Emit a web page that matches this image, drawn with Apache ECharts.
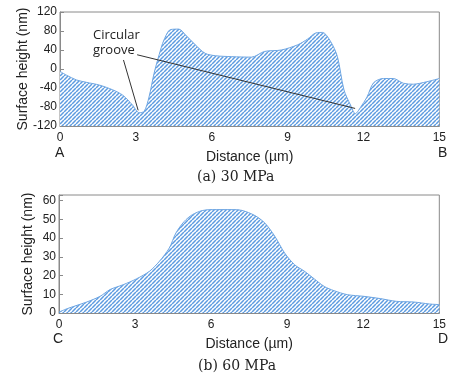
<!DOCTYPE html>
<html>
<head>
<meta charset="utf-8">
<script src="https://cdn.jsdelivr.net/npm/echarts@6/dist/echarts.min.js"></script>
<style>
  html, body { margin: 0; padding: 0; background: #fff; }
  #chart { width: 449px; height: 376px; }
</style>
</head>
<body>
<div id="chart"></div>
<script>
// (a) 30 MPa profile: [distance um, height nm]
const profileA = [
  [0, -5], [0.26, -13], [0.65, -23], [1.04, -28], [1.57, -34], [2.09, -44],
  [2.48, -55], [2.87, -76], [3.13, -92], [3.33, -89], [3.52, -59], [3.72, -9],
  [3.92, 30], [4.11, 61], [4.37, 83], [4.7, 84], [4.96, 72], [5.35, 51],
  [5.74, 33], [6.14, 28], [6.79, 26], [7.57, 25], [8.09, 37], [8.75, 40],
  [9.4, 51], [9.79, 63], [10.12, 76], [10.38, 77], [10.7, 58], [10.97, 26],
  [11.23, -44], [11.49, -76], [11.68, -94], [11.88, -81], [12.14, -59],
  [12.4, -29], [12.79, -20], [13.18, -20], [13.58, -30], [13.97, -32],
  [14.49, -27], [15, -20]
];
// (b) 60 MPa profile
const profileB = [
  [0, 0.5], [0.32, 2.3], [0.71, 4.1], [1.1, 5.9], [1.62, 8.9], [2.01, 12.5],
  [2.53, 15.1], [3.05, 18.2], [3.57, 22.3], [3.96, 27.6], [4.35, 34.7],
  [4.61, 42.7], [4.94, 48.9], [5.26, 52.5], [5.65, 54.7], [6.04, 55.2],
  [6.82, 55.2], [7.21, 54.8], [7.73, 52], [8.12, 48], [8.51, 41], [8.9, 32],
  [9.29, 25.8], [9.68, 22.3], [10.07, 18.2], [10.46, 14.2], [10.85, 11.9],
  [11.37, 9.8], [12.02, 8.9], [12.67, 7.7], [13.32, 6.2], [13.97, 5.9],
  [14.62, 4.8], [15, 4.5]
];
const xTicks = [0, 3, 6, 9, 12, 15];
const yTicksA = [-120, -80, -40, 0, 40, 80, 120];
const yTicksB = [0, 10, 20, 30, 40, 50, 60];
// pointer lines of the "Circular groove" note, in data units
const grooveArrows = [
  [[2.51, 19], [3.09, -87]],
  [[3.05, 30], [11.67, -83]]
];

// hatch fill
const hatch = document.createElement('canvas');
hatch.width = 4; hatch.height = 4;
const hc = hatch.getContext('2d');
hc.fillStyle = '#ffffff';
hc.fillRect(0, 0, 4, 4);
hc.strokeStyle = '#5d9be0';
hc.lineWidth = 1.5;
for (let k = -4; k <= 8; k += 4) {
  hc.beginPath();
  hc.moveTo(k, 4);
  hc.lineTo(k + 4, 0);
  hc.stroke();
}

const grey = '#8a8a8a';
const sans = 'Liberation Sans, Arial, sans-serif';

function xAxisFor(gridIndex) {
  return {
    type: 'value', gridIndex, min: 0, max: 15, interval: 3,
    name: 'Distance (\u00b5m)', nameLocation: 'middle', nameGap: 24,
    nameMoveOverlap: false,
    nameTextStyle: { fontFamily: sans, fontSize: 14, color: '#222' },
    axisLine: { onZero: false, lineStyle: { color: grey } },
    axisTick: { inside: true, length: 4, lineStyle: { color: grey } },
    axisLabel: {
      fontFamily: sans, fontSize: 12, color: '#222', margin: 6,
      formatter: v => xTicks.includes(v) ? String(v) : ''
    },
    splitLine: { show: false }
  };
}
function yAxisFor(gridIndex, min, max, interval, ticks, gap) {
  return {
    type: 'value', gridIndex, min, max, interval,
    name: 'Surface height (nm)', nameLocation: 'middle', nameGap: gap,
    nameMoveOverlap: false,
    nameTextStyle: { fontFamily: sans, fontSize: 14, color: '#222' },
    axisLine: { show: true, onZero: false, lineStyle: { color: grey } },
    axisTick: { inside: true, length: 4, lineStyle: { color: grey } },
    axisLabel: {
      fontFamily: sans, fontSize: 12, color: '#222', margin: 3,
      formatter: v => ticks.includes(v) ? String(v) : ''
    },
    splitLine: { show: false }
  };
}

const chart = echarts.init(document.getElementById('chart'), null, { renderer: 'canvas' });
chart.setOption({
  animation: false,
  grid: [
    { left: 60, right: 6, top: 12, height: 114, show: true, borderColor: grey, borderWidth: 1 },
    { left: 59, right: 6, top: 195, height: 118, show: true, borderColor: grey, borderWidth: 1 }
  ],
  xAxis: [xAxisFor(0), xAxisFor(1)],
  yAxis: [
    yAxisFor(0, -120, 120, 40, yTicksA, 30),
    yAxisFor(1, 0, 63, 10, yTicksB, 24)
  ],
  series: [
    {
      type: 'line', xAxisIndex: 0, yAxisIndex: 0, data: profileA,
      smooth: 0.3, showSymbol: false, silent: true,
      lineStyle: { color: '#6fa6e2', width: 1 },
      areaStyle: { origin: 'start', color: { image: hatch, repeat: 'repeat' }, opacity: 1 },
      markLine: {
        silent: true, symbol: 'none', label: { show: false },
        lineStyle: { color: '#333', width: 1, type: 'solid' },
        data: grooveArrows.map(([a, b]) => [{ coord: a }, { coord: b }])
      }
    },
    {
      type: 'line', xAxisIndex: 1, yAxisIndex: 1, data: profileB,
      smooth: 0.3, showSymbol: false, silent: true,
      lineStyle: { color: '#6fa6e2', width: 1 },
      areaStyle: { origin: 'start', color: { image: hatch, repeat: 'repeat' }, opacity: 1 }
    }
  ],
  graphic: [
    { type: 'text', left: 93, top: 28, style: { text: 'Circular\ngroove', font: '13px "Open Sans", sans-serif', fill: '#222', lineHeight: 15 } },
    { type: 'text', left: 55, top: 146, style: { text: 'A', font: '14px ' + sans, fill: '#222' } },
    { type: 'text', left: 438, top: 146, style: { text: 'B', font: '14px ' + sans, fill: '#222' } },
    { type: 'text', left: 53, top: 332, style: { text: 'C', font: '14px ' + sans, fill: '#222' } },
    { type: 'text', left: 438, top: 332, style: { text: 'D', font: '14px ' + sans, fill: '#222' } },
    { type: 'text', left: 197, top: 170, style: { text: '(a) 30 MPa', font: '14px "DejaVu Serif", serif', fill: '#222' } },
    { type: 'text', left: 198, top: 359, style: { text: '(b) 60 MPa', font: '14px "DejaVu Serif", serif', fill: '#222' } }
  ]
});
</script>
</body>
</html>
